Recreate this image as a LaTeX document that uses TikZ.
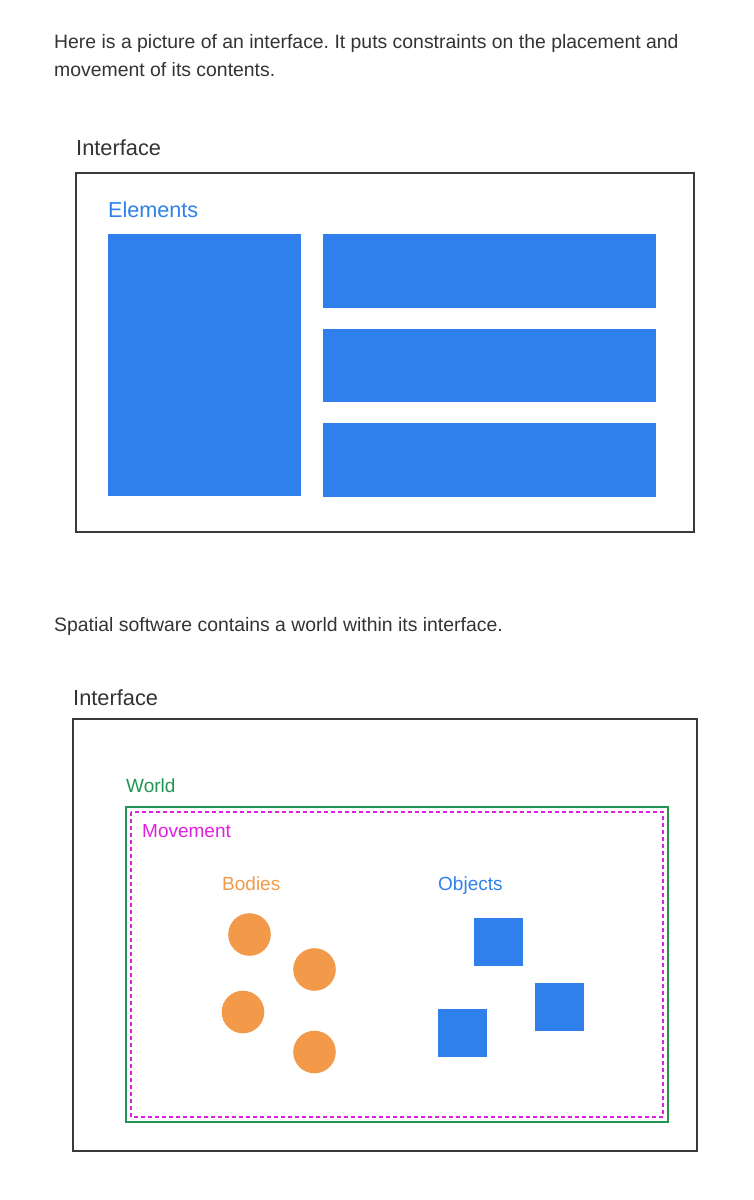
\documentclass[tikz,border=0pt]{standalone}
\usepackage{fontspec}
\setmainfont{Liberation Sans}
\usetikzlibrary{positioning}
\usepackage{xcolor}
\frenchspacing
\definecolor{textgray}{HTML}{333333}
\definecolor{frame}{HTML}{3A3A3A}
\definecolor{elblue}{HTML}{2F80ED}
\definecolor{bodyorange}{HTML}{F2994A}
\definecolor{worldgreen}{HTML}{219653}
\definecolor{movemag}{HTML}{E020E0}

\tikzset{
  bodytext/.style={anchor=base west, inner sep=0pt, text=textgray, font=\fontsize{19.4}{23}\selectfont},
  caption/.style={anchor=base west, inner sep=0pt, text=textgray, font=\fontsize{21.8}{26}\selectfont},
  tag/.style={anchor=base west, inner sep=0pt, font=\fontsize{19}{23}\selectfont},
  panel/.style={draw=frame, line width=2pt},
  block/.style={fill=elblue},
  body/.style={fill=bodyorange},
}

\begin{document}
\begin{tikzpicture}[x=1pt, y=-1pt]
\useasboundingbox (0,0) rectangle (754,1200);
% first picture
\node [bodytext] (intro1) at (54,48) {Here is a picture of an interface. It puts constraints on the placement and};
\node [bodytext] (intro2) at (54,76.5) {movement of its contents.};
\node [caption] (iface1) at (76,155) {Interface};
\draw [panel] (76,173) rectangle (694,532);
\node [tag, text=elblue, font=\fontsize{21.6}{26}\selectfont] (elements) at (108,217.5) {Elements};
\fill [block] (108,234) rectangle (301,496);
\foreach \y in {234,328.5,423}
  \fill [block] (323,\y) rectangle ++(333,73.5);
% second picture
\node [bodytext] (intro3) at (54,631) {Spatial software contains a world within its interface.};
\node [caption] (iface2) at (73,705) {Interface};
\draw [panel] (73,719) rectangle (697,1151);
\node [tag, text=worldgreen] (world) at (126,792.5) {World};
\draw [worldgreen, line width=1.8pt] (126,807) rectangle (668,1122);
\draw [movemag, line width=1.8pt, dash pattern=on 4pt off 3pt] (131,812) rectangle (663,1117);
\node [tag, text=movemag] (movement) at (142,837.5) {Movement};
\node [tag, text=bodyorange] (bodies) at (222,890) {Bodies};
\node [tag, text=elblue] (objects) at (438,890) {Objects};
\foreach \x/\y in {249.5/934.5, 314.5/969.5, 243/1012, 314.5/1052}
  \fill [body] (\x,\y) circle (21.3);
\foreach \x/\y in {474/918, 535/983, 438/1009}
  \fill [block] (\x,\y) rectangle ++(48.5,48);
\end{tikzpicture}
\end{document}
